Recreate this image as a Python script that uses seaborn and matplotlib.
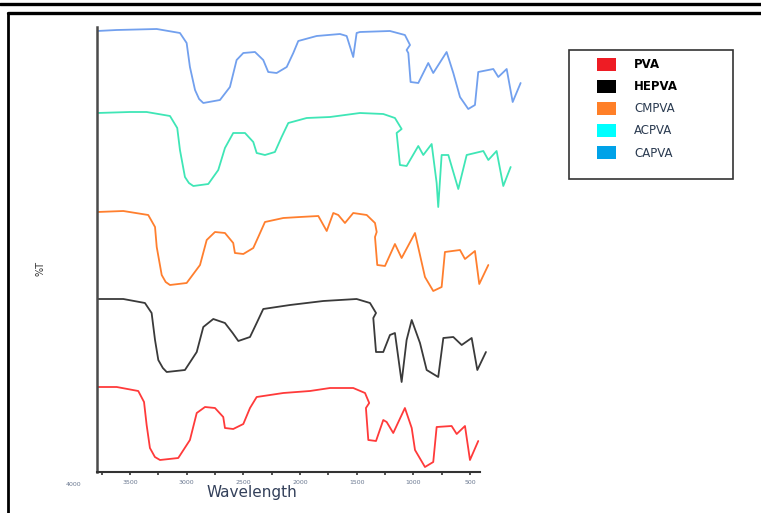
import numpy as np
import pandas as pd
import seaborn as sns
import matplotlib
matplotlib.use("Agg")
import matplotlib.pyplot as plt
from matplotlib.lines import Line2D
from matplotlib.patches import Rectangle

# ---------------- data (stacked %T, arbitrary units) ----------------
samples = ["PVA", "HEPVA", "CMPVA", "ACPVA", "CAPVA"]

pva_wn = [3789, 3617, 3427, 3376, 3353, 3324, 3280, 3235, 3074, 2971, 2911, 2838, 2750, 2677, 2662,
          2589, 2500, 2441, 2382, 2147, 1912, 1735, 1530, 1426, 1389, 1418, 1397, 1329, 1265,
          1235, 1177, 1074, 1014, 985, 897, 824, 794, 662, 617, 544, 500, 427]
pva_t = [85, 85, 81, 70, 47, 24, 15, 12, 14, 32, 59, 65, 64, 55, 44, 43, 48, 64, 75, 79, 81, 84,
         84, 79, 69, 64, 32, 31, 52, 50, 39, 64, 44, 22, 5, 10, 45, 46, 38, 46, 12, 31]

hepva_wn = [3789, 3559, 3368, 3309, 3279, 3250, 3210, 3176, 3015, 2911, 2853, 2765, 2662, 2594, 2544,
            2441, 2382, 2324, 2088, 1794, 1500, 1382, 1329, 1353, 1329, 1265, 1206, 1162, 1103,
            1059, 1014, 941, 882, 780, 735, 647, 573, 485, 435, 359]
hepva_t = [173, 173, 169, 159, 132, 112, 104, 100, 102, 120, 145, 153, 149, 139, 131, 135, 149, 163,
           167, 171, 173, 169, 159, 154, 120, 120, 137, 139, 90, 132, 152, 129, 102, 95, 134,
           135, 127, 134, 102, 120]

cmpva_wn = [3789, 3559, 3339, 3279, 3264, 3220, 3185, 3147, 3000, 2882, 2823, 2750, 2662, 2589, 2574,
            2500, 2412, 2368, 2309, 2147, 2000, 1838, 1764, 1706, 1662, 1603, 1530, 1411, 1338,
            1323, 1338, 1318, 1250, 1162, 1103, 985, 941, 897, 824, 750, 721, 588, 544, 456,
            418, 338]
cmpva_t = [260, 261, 257, 245, 225, 197, 190, 187, 189, 207, 232, 240, 239, 229, 219, 218, 224, 235,
           250, 254, 255, 256, 241, 259, 257, 249, 259, 257, 249, 240, 235, 207, 206, 228, 214,
           239, 217, 195, 181, 185, 220, 222, 213, 221, 188, 207]

acpva_wn = [3789, 3500, 3353, 3147, 3083, 3059, 3015, 2980, 2941, 2809, 2721, 2662, 2589, 2485, 2412,
            2382, 2309, 2221, 2162, 2103, 1941, 1735, 1471, 1265, 1162, 1103, 1147, 1118, 1059,
            956, 912, 838, 794, 780, 750, 691, 603, 529, 382, 338, 265, 206, 141]
acpva_t = [359, 360, 360, 356, 344, 322, 295, 289, 286, 288, 302, 324, 339, 339, 330, 319, 317, 320,
           335, 349, 354, 355, 359, 358, 354, 343, 339, 307, 306, 326, 317, 328, 289, 265, 317,
           317, 283, 317, 321, 312, 321, 286, 305]

capva_wn = [3789, 3617, 3264, 3059, 3000, 2971, 2926, 2890, 2853, 2706, 2618, 2559, 2500, 2397, 2324,
            2280, 2206, 2117, 2059, 2015, 1853, 1647, 1588, 1530, 1500, 1471, 1206, 1074, 1029,
            1059, 1044, 1024, 956, 868, 824, 706, 647, 588, 515, 456, 427, 294, 250, 176, 123, 53]
capva_t = [441, 442, 443, 439, 429, 405, 382, 373, 369, 372, 385, 412, 419, 420, 412, 400, 399, 405,
           419, 431, 436, 438, 436, 415, 439, 440, 441, 437, 427, 422, 419, 390, 389, 409, 399,
           420, 399, 375, 363, 367, 400, 403, 395, 403, 370, 389]

x_ticks = [3500, 3000, 2500, 2000, 1500, 1000, 500]
x_tick_labels = ["3500", "3000", "2500", "2000", "1500", "1000", "500"]

line_colors = {"PVA": "#ff3a3a", "HEPVA": "#3a3a3a", "CMPVA": "#ff7f2e",
               "ACPVA": "#3fe6b6", "CAPVA": "#72a0ee"}
legend_colors = ["#ee1c24", "#000000", "#ff7f27", "#00ffff", "#00a2e8"]

series = {"PVA": (pva_wn, pva_t), "HEPVA": (hepva_wn, hepva_t), "CMPVA": (cmpva_wn, cmpva_t),
          "ACPVA": (acpva_wn, acpva_t), "CAPVA": (capva_wn, capva_t)}
frames = []
for name in samples:
    wn, t = series[name]
    frames.append(pd.DataFrame({"wavenumber": wn, "T": t, "sample": name,
                                "order": np.arange(len(wn))}))
df = pd.concat(frames, ignore_index=True)

# ---------------- figure ----------------
sns.set_theme(style="white")
plt.rcParams["font.family"] = ["DejaVu Sans"]
W, H = 761, 513
fig = plt.figure(figsize=(W / 100, H / 100), dpi=100)
fig.patch.set_facecolor("white")

def fx(px):
    return px / W

def fy(py):
    return 1 - py / H

ax = fig.add_axes([fx(97), fy(472), (540 - 97) / W, (472 - 27) / H])
ax.set_facecolor("white")

sns.lineplot(data=df, x="wavenumber", y="T", hue="sample", palette=line_colors,
             sort=False, estimator=None, units="sample", legend=False, lw=1.3, ax=ax)

ax.set_xlim(3791, -118)
ax.set_ylim(0, 445)
for s in ["top", "right"]:
    ax.spines[s].set_visible(False)
ax.spines["left"].set_color("#4a4a4a")
ax.spines["left"].set_linewidth(1.8)
ax.spines["bottom"].set_color("#333333")
ax.spines["bottom"].set_linewidth(1.5)
ax.spines["bottom"].set_bounds(3791, 412)

ax.set_xticks(x_ticks)
ax.set_xticklabels(x_tick_labels)
ax.set_xticks([3750, 3250, 2750, 2250, 1750, 1250, 750], minor=True)
ax.tick_params(axis="x", which="both", direction="out", length=2.5, width=1.2,
               color="#333333", labelsize=4.5, labelcolor="#6a7890", pad=3, bottom=True)
ax.set_yticks([])
ax.text(4000, -10, "4000", fontsize=4.5, color="#6a7890", ha="center", va="top",
        clip_on=False)

ax.set_xlabel("")
ax.set_ylabel("")
fig.text(fx(252), fy(492), "Wavelength", fontsize=11, color="#33405a",
         ha="center", va="center", fontweight="medium")
fig.text(fx(40), fy(268), "%T", fontsize=7, color="#333333", rotation=90,
         ha="center", va="center")

# ---------------- legend ----------------
handles = [Rectangle((0, 0), 1, 1, facecolor=c, edgecolor="none") for c in legend_colors]
leg = fig.legend(handles, samples, loc="upper left",
                 bbox_to_anchor=(fx(588), fy(49)), frameon=False,
                 fontsize=8.5, handlelength=1.6, handleheight=1.2,
                 labelspacing=0.76, handletextpad=1.5, borderpad=0.3)
for i, txt in enumerate(leg.get_texts()):
    if i < 2:
        txt.set_fontweight("bold")
        txt.set_color("#000000")
    else:
        txt.set_color("#2a3a50")
fig.add_artist(Rectangle((fx(569), fy(179)), (733 - 569) / W, (179 - 50) / H,
                         transform=fig.transFigure, fill=False, edgecolor="#333333", lw=1.2))

# ---------------- outer frame lines ----------------
fig.add_artist(Line2D([0, 1], [fy(4), fy(4)], transform=fig.transFigure, color="black", lw=2.4))
fig.add_artist(Line2D([fx(8), 1], [fy(13), fy(13)], transform=fig.transFigure, color="black", lw=2.4))
fig.add_artist(Line2D([fx(8), fx(8)], [fy(13), 0], transform=fig.transFigure, color="black", lw=2.0))

fig.savefig("out.png", dpi=100, facecolor="white")
